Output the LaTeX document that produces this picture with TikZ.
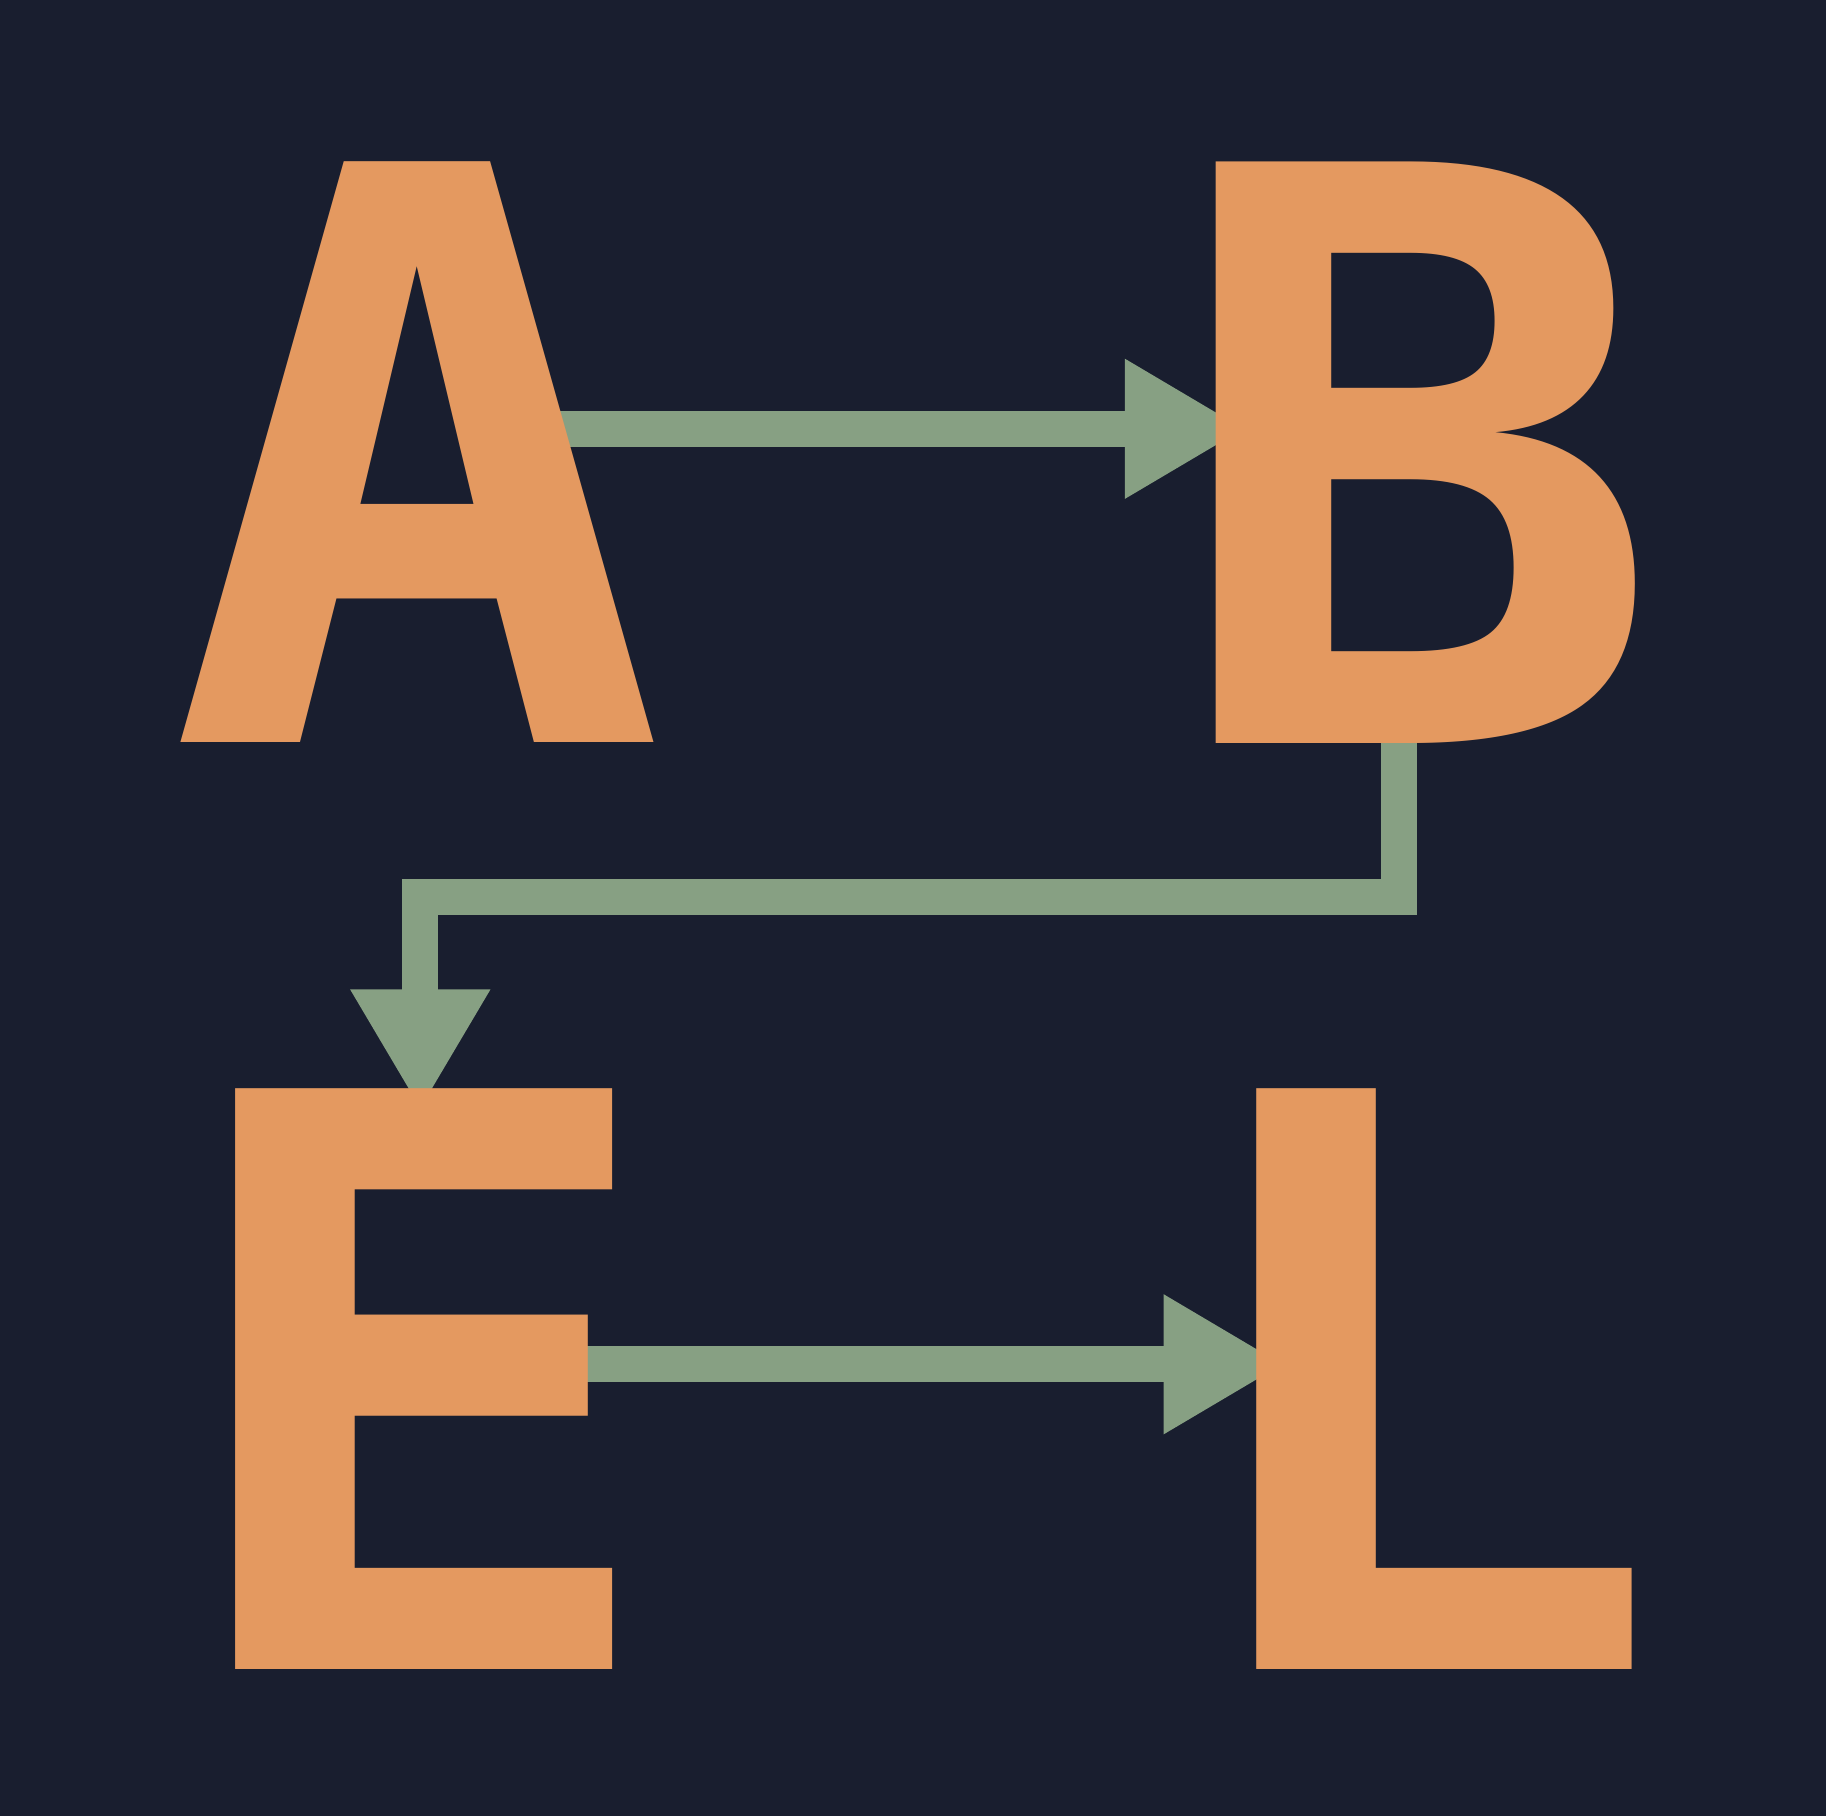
\documentclass[tikz,border=0pt]{standalone}
\usepackage{fontspec}
\setmonofont{DejaVu Sans Mono}[FakeStretch=1.042]
\usetikzlibrary{arrows.meta}

\definecolor{navy}{HTML}{191E2F}
\definecolor{peach}{HTML}{E49960}
\definecolor{sage}{HTML}{87A083}

\pgfdeclarelayer{wires}
\pgfsetlayers{wires,main}

\begin{document}
\begin{tikzpicture}[node distance=9.98cm,
    letter/.style={text=peach, inner sep=0pt, font=\ttfamily\bfseries\fontsize{226.7}{230}\selectfont},
    link/.style={draw=sage, line width=0.36cm, -{Triangle[width=1.31cm, length=1.205cm]}}]

    % The four letters
    \node (a) [letter] at (4.173,-4.525) {A};
    \node (b) [letter, right of=a] {B};
    \node (e) [letter, below of=a, yshift=0.713cm] {E};
    \node (l) [letter, right of=e] {L};

    \begin{pgfonlayer}{wires}
    \fill[navy] (0,0) rectangle (18.26,-18.16);

    % A to B
    \draw[link] ([xshift=0.84cm, yshift=0.237cm]a.center) -- ([xshift=-1.70cm, yshift=0.237cm]b.center);

    % B down and across to E
    \draw[link] ([xshift=-0.167cm, yshift=-2.475cm]b.center) -- ++(0,-1.975) -| ([xshift=0.03cm, yshift=2.692cm]e.center);

    % E to L
    \draw[link] ([xshift=1.44cm, yshift=0.149cm]e.center) -- ([xshift=-1.313cm, yshift=0.149cm]l.center);
    \end{pgfonlayer}

\end{tikzpicture}
\end{document}
